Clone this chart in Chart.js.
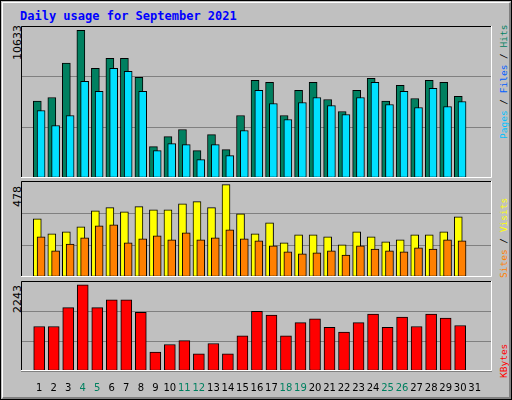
<!DOCTYPE html>
<html><head><meta charset="utf-8">
<script src="https://cdn.jsdelivr.net/npm/chart.js@4/dist/chart.umd.min.js"></script>
<style>
body{margin:0;background:#fff}
#wrap{position:absolute;left:0;top:0;width:510px;height:398px;background:#c0c0c0;border:1px solid #000}
#bev{position:absolute;left:1px;top:1px;width:506px;height:394px;border-top:1px solid #fff;border-left:1px solid #fff;border-right:2px solid #808080;border-bottom:2px solid #808080}
.box{position:absolute}
.t{position:absolute;font-family:"DejaVu Sans Mono",monospace;font-weight:bold;font-size:12px;white-space:nowrap}
.r{position:absolute;font-family:"DejaVu Sans Mono",monospace;font-size:9.5px;white-space:nowrap;transform-origin:0 0;transform:rotate(-90deg)}
.rot{transform-origin:0 0;transform:rotate(-90deg)}
.lab{position:absolute;font-family:"DejaVu Sans",sans-serif;font-size:11px;white-space:nowrap}
</style></head><body>
<div id="wrap"><div id="bev"></div>
<div class="t" style="left:19px;top:8px;color:#0000ff">Daily usage for September 2021</div>
<div class="lab rot" style="left:10px;top:59px">10633</div>
<div class="lab rot" style="left:10px;top:206px">478</div>
<div class="lab rot" style="left:10px;top:312px">2243</div>
<div class="r" style="left:497px;top:138px"><span style="color:#00c0ff">Pages</span> / <span style="color:#0060ff">Files</span> / <span style="color:#008060">Hits</span></div>
<div class="r" style="left:497px;top:277px"><span style="color:#ff8000">Sites</span> / <span style="color:#ffff00">Visits</span></div>
<div class="r" style="left:497px;top:377px"><span style="color:#ff0000">KBytes</span></div>
<div class="box" style="left:20px;top:25px;width:471px;height:152px"><canvas id="c1"></canvas></div>
<div class="box" style="left:20px;top:180px;width:471px;height:96px"><canvas id="c2"></canvas></div>
<div class="box" style="left:20px;top:280px;width:471px;height:116px"><canvas id="c3"></canvas></div>
</div>
<script>
const days=[1,2,3,4,5,6,7,8,9,10,11,12,13,14,15,16,17,18,19,20,21,22,23,24,25,26,27,28,29,30,31];
const weekends=[4,5,11,12,18,19,25,26];
const hits=[5534,5798,8277,10633,7892,8613,8613,7242,2262,2983,3489,1973,3128,2045,4499,7026,6881,4499,6304,6881,5654,4788,6304,7170,5534,6665,5726,7026,6881,5871,0];
const files=[4860,3777,4499,6953,6232,7892,7675,6232,1973,2478,2406,1323,2406,1612,3417,6304,5365,4211,5438,5798,5221,4571,5798,6881,5293,6232,5077,6448,5149,5510,0];
const visits=[301,223,234,260,343,359,338,364,348,348,379,390,359,478,327,223,281,177,218,218,208,166,234,208,182,192,218,218,234,312,0];
const sites=[208,135,171,203,265,270,177,197,213,192,229,192,203,244,197,187,161,130,120,125,135,114,161,145,135,130,151,145,192,187,0];
const kbytes=[1158,1158,1651,2243,1651,1849,1849,1528,493,690,789,444,715,444,912,1553,1454,912,1257,1356,1134,1011,1257,1479,1134,1405,1158,1479,1380,1183,0];

const frame={id:'frame',afterDraw(c){const a=c.chartArea,x=c.ctx;x.save();x.lineWidth=1;
 x.strokeStyle='#000';x.beginPath();x.moveTo(a.left+0.5,a.bottom);x.lineTo(a.left+0.5,a.top+0.5);x.lineTo(a.right,a.top+0.5);x.stroke();
 x.strokeStyle='#fff';x.beginPath();x.moveTo(a.right-0.5,a.top);x.lineTo(a.right-0.5,a.bottom-0.5);x.lineTo(a.left,a.bottom-0.5);x.stroke();x.restore();}};

function ds(vals,off,color,w,ord){return{data:days.map((d,i)=>({x:d+off,y:vals[i]})),backgroundColor:color,borderColor:'#000',borderWidth:1,barThickness:w,grouped:false,borderSkipped:false,order:ord};}
function mk(id,datasets,max,showX){
 new Chart(document.getElementById(id),{type:'bar',data:{datasets},plugins:[frame],
 options:{responsive:true,maintainAspectRatio:false,animation:false,layout:{padding:0},
  plugins:{legend:{display:false},tooltip:{enabled:false}},
  scales:{
   x:{type:'linear',min:0.27,max:31.67,display:showX,grid:{display:false},border:{display:false},
      afterBuildTicks(s){s.ticks=days.map(v=>({value:v}));},
      ticks:{padding:3,autoSkip:false,maxRotation:0,font:{family:'DejaVu Sans',size:10},
        color:c=>weekends.includes(c.tick&&c.tick.value)?'#008060':'#000',callback:v=>String(v)}},
   y:{min:0,max:max,afterFit(s){s.width=0;},ticks:{display:false,stepSize:max/3},
      grid:{color:'#808080',drawTicks:false},border:{display:false}}}}});
}
mk('c1',[ds(hits,-0.13,'#008060',8,1),ds(files,0.13,'#00e0ff',8,0)],10943,false);
mk('c2',[ds(visits,-0.13,'#ffff00',8,1),ds(sites,0.13,'#ff8000',8,0)],497,false);
mk('c3',[ds(kbytes,0,'#ff0000',11,0)],2342,true);
</script></body></html>
